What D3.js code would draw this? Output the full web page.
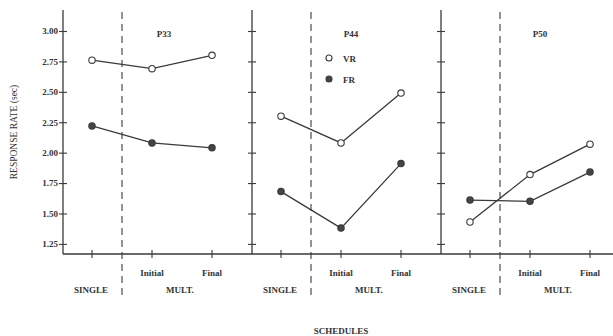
<!DOCTYPE html>
<html>
<head>
<meta charset="utf-8">
<script src="https://cdn.jsdelivr.net/npm/d3@7"></script>
<style>
  body { margin: 0; background: #fff; }
  text { font-family: "Liberation Serif", "DejaVu Serif", serif; fill: #333; font-weight: bold; }
</style>
</head>
<body>
<div id="chart"></div>
<script>
// data
var birds = ["P33", "P44", "P50"];
var conditions = ["SINGLE", "Initial", "Final"];
var vrValues = [[2.76, 2.69, 2.80], [2.30, 2.08, 2.49], [1.43, 1.82, 2.07]];
var frValues = [[2.22, 2.08, 2.04], [1.68, 1.38, 1.91], [1.61, 1.60, 1.84]];
var yTicks = [1.25, 1.50, 1.75, 2.00, 2.25, 2.50, 2.75, 3.00];

var W = 613, H = 336;
var ink = "#3a3a3a";

var svg = d3.select("#chart").append("svg")
  .attr("width", W).attr("height", H);

var y = d3.scaleLinear().domain([1.167, 3.0]).range([254, 31]);
var panelX = d3.scalePoint().domain(birds).range([63, 441]);
// positions inside a panel: single, divider, initial, final
var xPos = { "SINGLE": 29, "div": 59, "Initial": 89, "Final": 149 };

// x axis line across all panels
svg.append("line")
  .attr("x1", 63).attr("x2", W).attr("y1", y.range()[0]).attr("y2", y.range()[0])
  .style("stroke", ink).style("stroke-width", 1.3);

birds.forEach(function(b, i) {
  var ox = panelX(b);
  var g = svg.append("g").attr("transform", "translate(" + ox + ",0)");

  // y axis
  var ax = d3.axisLeft(y).tickValues(yTicks).tickSize(4)
    .tickFormat(i == 0 ? d3.format(".2f") : "");
  var ga = g.append("g").call(ax);
  ga.select(".domain").remove();
  ga.append("line").attr("x1", 0).attr("x2", 0).attr("y1", 10).attr("y2", y.range()[0])
    .style("stroke", ink).style("stroke-width", 1.3);
  ga.selectAll(".tick line").attr("x1", 4).style("stroke", ink).style("stroke-width", 1.1);
  ga.selectAll(".tick text").attr("x", -5).style("font-size", "9px").style("fill", "#333")
    .style("font-family", "Liberation Serif, serif");

  // x ticks
  conditions.forEach(function(c) {
    g.append("line").attr("x1", xPos[c]).attr("x2", xPos[c])
      .attr("y1", y.range()[0] - 4).attr("y2", y.range()[0] + 4)
      .style("stroke", ink).style("stroke-width", 1.1);
  });

  // dashed divider
  g.append("line").attr("x1", xPos.div).attr("x2", xPos.div)
    .attr("y1", 12).attr("y2", 297)
    .style("stroke", ink).style("stroke-width", 1.1).style("stroke-dasharray", "7,5");

  g.append("text").attr("x", xPos.Initial).attr("y", 276).attr("text-anchor", "middle")
    .style("font-size", "9px").text("Initial");
  g.append("text").attr("x", xPos.Final).attr("y", 276).attr("text-anchor", "middle")
    .style("font-size", "9px").text("Final");
  g.append("text").attr("x", xPos.SINGLE - 1).attr("y", 293).attr("text-anchor", "middle")
    .style("font-size", "9px").text("SINGLE");
  g.append("text").attr("x", 117).attr("y", 293).attr("text-anchor", "middle")
    .style("font-size", "9px").text("MULT.");

  g.append("text").attr("x", i == 0 ? 101 : 99).attr("y", 37).attr("text-anchor", "middle")
    .style("font-size", "9px").text(b);

  var line = d3.line()
    .x(function(d, k) { return xPos[conditions[k]]; })
    .y(function(d) { return y(d); });

  [frValues[i], vrValues[i]].forEach(function(vals, s) {
    g.append("path").datum(vals).attr("d", line)
      .style("fill", "none").style("stroke", ink).style("stroke-width", 1.3);
    g.selectAll(".pt" + s).data(vals).enter().append("circle")
      .attr("cx", function(d, k) { return xPos[conditions[k]]; })
      .attr("cy", function(d) { return y(d); })
      .attr("r", 3.2)
      .style("fill", s == 1 ? "#fff" : "#444")
      .style("stroke", ink).style("stroke-width", 1.1);
  });
});

// legend
var leg = [{ name: "VR", fill: "#fff", y: 58 }, { name: "FR", fill: "#444", y: 79 }];
leg.forEach(function(l) {
  svg.append("circle").attr("cx", 329).attr("cy", l.y).attr("r", 3)
    .style("fill", l.fill).style("stroke", ink).style("stroke-width", 1.1);
  svg.append("text").attr("x", 343).attr("y", l.y + 3.5).style("font-size", "9px").text(l.name);
});

svg.append("text").attr("x", 341).attr("y", 334).attr("text-anchor", "middle")
  .style("font-size", "9px").text("SCHEDULES");

svg.append("text").attr("transform", "translate(17,132) rotate(-90)")
  .attr("text-anchor", "middle").style("font-size", "9.5px").style("font-weight", "normal")
  .text("RESPONSE RATE (sec)");
</script>
</body>
</html>
